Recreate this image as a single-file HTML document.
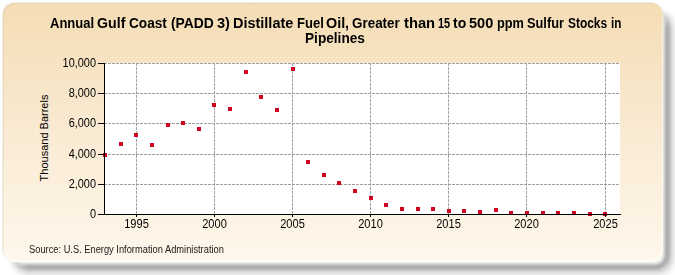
<!DOCTYPE html>
<html><head><meta charset="utf-8"><style>
html,body{margin:0;padding:0;width:675px;height:275px;overflow:hidden;background:#fff;}
body{position:relative;font-family:"Liberation Sans",sans-serif;}
.box{position:absolute;left:3px;top:3px;width:660px;height:259px;border-radius:12px;
background:linear-gradient(to bottom,#F5DDB4 0%,#F9EAD3 50%,#FDF2E1 78%,#FEF7EC 100%);
box-shadow:inset -1px -2px 1px rgba(255,255,255,0.5), inset 1px 1px 0 rgba(150,140,100,0.12), -0.5px -0.5px 1px rgba(150,140,110,0.15);}
.t{position:absolute;top:16px;font-weight:bold;font-size:14px;line-height:15px;color:#000;white-space:nowrap;transform:scaleX(0.98);transform-origin:0 0;}
.ylab{position:absolute;left:44px;top:138px;width:100px;height:14px;margin-left:-50px;margin-top:-7px;text-align:center;font-size:11px;line-height:14px;transform:rotate(-90deg);color:#000;}
.yl{position:absolute;left:40px;width:56px;text-align:right;font-size:12px;line-height:14px;color:#000;transform:scaleX(0.91);transform-origin:right center;}
.xl{position:absolute;top:217px;width:41px;text-align:center;font-size:12px;line-height:14px;color:#000;transform:scaleX(0.92);}
.src{position:absolute;left:29px;top:243px;font-size:10px;line-height:13px;color:#1a1a1a;transform:scaleX(0.93);transform-origin:0 0;}
svg{position:absolute;left:0;top:0;}
</style></head><body>
<svg class="shd" width="675" height="275" style="position:absolute;left:0;top:0;-webkit-mask-image:linear-gradient(to bottom,transparent 7px,#000 28px),linear-gradient(to right,transparent 7px,#000 28px);-webkit-mask-composite:source-in;mask-image:linear-gradient(to bottom,transparent 7px,#000 28px),linear-gradient(to right,transparent 7px,#000 28px);mask-composite:intersect;"><defs><filter id="b1" x="-10%" y="-10%" width="120%" height="120%"><feGaussianBlur stdDeviation="1.93"/></filter><filter id="b2" x="-10%" y="-10%" width="120%" height="120%"><feGaussianBlur stdDeviation="2.98"/></filter></defs>
<rect x="12" y="11" width="657.5" height="259" rx="12" fill="none" stroke="#000" stroke-opacity="0.2" stroke-width="7.4" filter="url(#b2)"/>
<rect x="12" y="11" width="655.0" height="255.8" rx="12" fill="none" stroke="#000" stroke-opacity="0.56" stroke-width="2.4" filter="url(#b1)"/>
</svg><div class="box"></div>
<span class="t" style="left:50.0px;transform:scaleX(0.930)">Annual</span><span class="t" style="left:96.8px;transform:scaleX(1.013)">Gulf</span><span class="t" style="left:129.0px;transform:scaleX(0.974)">Coast</span><span class="t" style="left:170.7px;transform:scaleX(0.989)">(PADD</span><span class="t" style="left:216.9px;transform:scaleX(1.043)">3)</span><span class="t" style="left:232.7px;transform:scaleX(1.033)">Distillate</span><span class="t" style="left:296.7px;transform:scaleX(0.932)">Fuel</span><span class="t" style="left:326.2px;transform:scaleX(1.024)">Oil,</span><span class="t" style="left:351.9px;transform:scaleX(0.959)">Greater</span><span class="t" style="left:403.7px;transform:scaleX(1.052)">than</span><span class="t" style="left:437.7px;transform:scaleX(0.780)">15</span><span class="t" style="left:452.5px;transform:scaleX(1.003)">to</span><span class="t" style="left:468.7px;transform:scaleX(1.039)">500</span><span class="t" style="left:496.7px;transform:scaleX(0.911)">ppm</span><span class="t" style="left:526.7px;transform:scaleX(0.915)">Sulfur</span><span class="t" style="left:567.7px;transform:scaleX(0.852)">Stocks</span><span class="t" style="left:610.5px;transform:scaleX(0.833)">in</span><span class="t" style="left:304.5px;top:31px;transform:scaleX(0.975)">Pipelines</span>
<svg width="675" height="275" viewBox="0 0 675 275">
<rect x="105" y="63" width="515" height="151" fill="#fff"/>
<g stroke="#A0A0A0" stroke-width="1" stroke-dasharray="3,1" fill="none"><line x1="104" y1="63.5" x2="620" y2="63.5"/><line x1="104" y1="93.5" x2="620" y2="93.5"/><line x1="104" y1="123.5" x2="620" y2="123.5"/><line x1="104" y1="154.5" x2="620" y2="154.5"/><line x1="104" y1="184.5" x2="620" y2="184.5"/><line x1="136.5" y1="63" x2="136.5" y2="214"/><line x1="214.5" y1="63" x2="214.5" y2="214"/><line x1="292.5" y1="63" x2="292.5" y2="214"/><line x1="370.5" y1="63" x2="370.5" y2="214"/><line x1="448.5" y1="63" x2="448.5" y2="214"/><line x1="526.5" y1="63" x2="526.5" y2="214"/><line x1="605.5" y1="63" x2="605.5" y2="214"/></g>

<g fill="#D0041F"><rect x="103" y="153" width="4" height="4"/><rect x="119" y="142" width="4" height="4"/><rect x="134" y="133" width="4" height="4"/><rect x="150" y="143" width="4" height="4"/><rect x="166" y="123" width="4" height="4"/><rect x="181" y="121" width="4" height="4"/><rect x="197" y="127" width="4" height="4"/><rect x="212" y="103" width="4" height="4"/><rect x="228" y="107" width="4" height="4"/><rect x="244" y="70" width="4" height="4"/><rect x="259" y="95" width="4" height="4"/><rect x="275" y="108" width="4" height="4"/><rect x="291" y="67" width="4" height="4"/><rect x="306" y="160" width="4" height="4"/><rect x="322" y="173" width="4" height="4"/><rect x="337" y="181" width="4" height="4"/><rect x="353" y="189" width="4" height="4"/><rect x="369" y="196" width="4" height="4"/><rect x="384" y="203" width="4" height="4"/><rect x="400" y="207" width="4" height="4"/><rect x="416" y="207" width="4" height="4"/><rect x="431" y="207" width="4" height="4"/><rect x="447" y="209" width="4" height="4"/><rect x="462" y="209" width="4" height="4"/><rect x="478" y="210" width="4" height="4"/><rect x="494" y="208" width="4" height="4"/><rect x="509" y="211" width="4" height="4"/><rect x="525" y="211" width="4" height="4"/><rect x="541" y="211" width="4" height="4"/><rect x="556" y="211" width="4" height="4"/><rect x="572" y="211" width="4" height="4"/><rect x="588" y="212" width="4" height="4"/><rect x="603" y="212" width="4" height="4"/></g>
<g stroke="#000" stroke-width="1" fill="none">
<line x1="104.5" y1="63" x2="104.5" y2="215"/>
<line x1="104" y1="214.5" x2="621" y2="214.5"/>
<line x1="98" y1="63.5" x2="104" y2="63.5"/><line x1="98" y1="93.5" x2="104" y2="93.5"/><line x1="98" y1="123.5" x2="104" y2="123.5"/><line x1="98" y1="154.5" x2="104" y2="154.5"/><line x1="98" y1="184.5" x2="104" y2="184.5"/><line x1="98" y1="214.5" x2="104" y2="214.5"/><line x1="136.5" y1="214" x2="136.5" y2="217"/><line x1="214.5" y1="214" x2="214.5" y2="217"/><line x1="292.5" y1="214" x2="292.5" y2="217"/><line x1="370.5" y1="214" x2="370.5" y2="217"/><line x1="448.5" y1="214" x2="448.5" y2="217"/><line x1="526.5" y1="214" x2="526.5" y2="217"/><line x1="605.5" y1="214" x2="605.5" y2="217"/>
</g>
</svg>
<div class="ylab">Thousand Barrels</div>
<div class="yl" style="top:56px">10,000</div><div class="yl" style="top:86px">8,000</div><div class="yl" style="top:116px">6,000</div><div class="yl" style="top:147px">4,000</div><div class="yl" style="top:177px">2,000</div><div class="yl" style="top:207px">0</div>
<div class="xl" style="left:115.5px">1995</div><div class="xl" style="left:193.5px">2000</div><div class="xl" style="left:271.5px">2005</div><div class="xl" style="left:349.5px">2010</div><div class="xl" style="left:427.5px">2015</div><div class="xl" style="left:505.5px">2020</div><div class="xl" style="left:584.5px">2025</div>
<div class="src">Source: U.S. Energy Information Administration</div>
</body></html>
